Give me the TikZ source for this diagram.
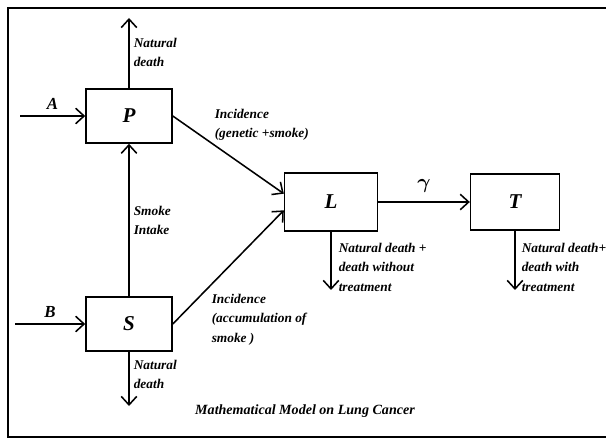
\documentclass[tikz,border=0pt]{standalone}
\usepackage{fontspec}
\setmainfont{Liberation Serif}
\usepackage{amsmath}
\usepackage{tikz}
\usetikzlibrary{positioning,arrows.meta}

\begin{document}
\begin{tikzpicture}[x = .025cm, y = -.025cm, line width = 1.1pt,
  >={Straight Barb[length=6pt,width=11pt]},
  compartment/.style = {draw, minimum width = 2.15cm, minimum height = 1.35cm, font = \fontsize{15}{16}\selectfont\bfseries\itshape},
  lab/.style = {anchor = north west, inner sep = 0pt, align = left, font = \fontsize{9.5}{14}\selectfont\bfseries\itshape}]
\useasboundingbox (0,0) rectangle (606,439);
\draw (620,8) -- (8,8) -- (8,437) -- (620,437);

\node[compartment] (P) at (129,116) {P};
\node[compartment] (S) at (129,324) {S};
\node[compartment, minimum width = 2.32cm, minimum height = 1.45cm] (L) at (331,202) {L};
\node[compartment, minimum width = 2.22cm, minimum height = 1.4cm] (T) at (515,202) {T};

\coordinate (a) at (20,116);
\coordinate (b) at (15,324);
\coordinate (pd) at (129,18);
\coordinate (sd) at (129,406);
\coordinate (ld) at (331,290);
\coordinate (td) at (515,290);

\draw[->] (a) -- (P.west) node[midway, above = 1pt, font = \fontsize{12}{13}\selectfont\bfseries\itshape] (A) {A};
\draw[->] (b) -- (S.west) node[midway, above = 1pt, font = \fontsize{12}{13}\selectfont\bfseries\itshape] (B) {B};
\draw[->] (P.north) -- (pd);
\draw[->] (S.north) -- (P.south);
\draw[->] (S.south) -- (sd);
\draw[->] (P.east) -- (L.170);
\draw[->] (S.east) -- (L.190);
\draw[->] (L.east) -- (T.west) node[midway, above = 3pt, font = \fontsize{14}{15}\selectfont] (g) {$\boldsymbol{\gamma}$};
\draw[->] (L.south) -- (ld);
\draw[->] (T.south) -- (td);

\node[lab] (ndP) at (133,37) {Natural\\death};
\node[lab] (smk) at (133,205) {Smoke\\Intake};
\node[lab] (incP) at (214,108) {Incidence\\(genetic +smoke)};
\node[lab] (incS) at (211,293) {Incidence\\(accumulation of\\smoke )};
\node[lab] (ndS) at (133,359) {Natural\\death};
\node[lab] (ndL) at (338,242) {Natural death +\\death without\\treatment};
\node[lab] (ndT) at (521,242) {Natural death+\\death with\\treatment};
\node[font = \fontsize{10}{12}\selectfont\bfseries\itshape] (cap) at (305,411) {Mathematical Model on Lung Cancer};
\end{tikzpicture}
\end{document}
